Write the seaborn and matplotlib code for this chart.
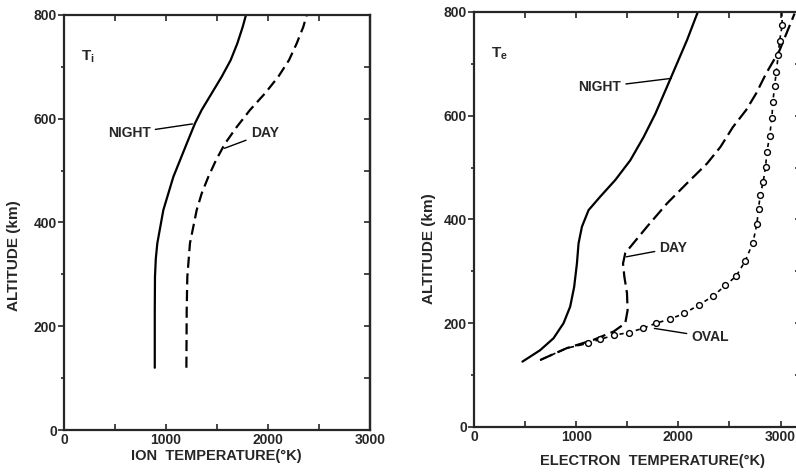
import pandas as pd
import seaborn as sns
import matplotlib.pyplot as plt
from matplotlib.ticker import MultipleLocator

# Ion temperature (left panel)
ti_night_alt = [120, 230, 295, 330, 360, 424, 488, 552, 591, 617, 649, 681, 713, 745, 777, 800]
ti_night_temp = [890, 890, 892, 900, 915, 974, 1072, 1203, 1284, 1350, 1448, 1546, 1634, 1699, 1752, 1784]
ti_day_alt = [120, 231, 295, 360, 424, 456, 488, 520, 552, 584, 617, 649, 681, 713, 745, 777, 800]
ti_day_temp = [1200, 1203, 1209, 1235, 1301, 1350, 1415, 1490, 1578, 1693, 1824, 1971, 2101, 2206, 2281,
               2346, 2380]

# Electron temperature (right panel)
te_night_alt = [126, 148, 171, 200, 232, 270, 315, 354, 386, 418, 444, 476, 514, 559, 604, 656, 701, 746, 800]
te_night_temp = [474, 647, 778, 876, 941, 980, 1007, 1023, 1056, 1121, 1235, 1382, 1529, 1660, 1775, 1889,
                 1987, 2085, 2190]
te_day_alt = [129, 152, 168, 184, 200, 225, 258, 290, 315, 335, 351, 386, 431, 470, 508, 540,
              578, 611, 643, 682, 726, 797]
te_day_temp = [647, 908, 1170, 1366, 1480, 1503, 1497, 1471, 1458, 1480, 1546, 1693, 1889, 2085, 2281, 2412,
               2533, 2663, 2761, 2860, 2990, 3137]
te_oval_alt = [161, 169, 177, 182, 190, 200, 208, 219, 235, 252, 273, 291, 320, 355, 391, 421,
               447, 473, 501, 530, 560, 596, 627, 657, 684, 717, 744, 775]
te_oval_temp = [1111, 1235, 1373, 1513, 1650, 1781, 1918, 2059, 2199, 2337, 2461, 2566, 2654, 2729, 2768, 2784,
                2801, 2830, 2853, 2866, 2892, 2915, 2925, 2941, 2958, 2977, 2990, 3016]
# dashed tail of the oval curve (joins day curve below, runs to the top above)
oval_low_alt = [129, 152, 161]
oval_low_temp = [647, 908, 1111]
oval_top_alt = [775, 800]
oval_top_temp = [3016, 3012]

sns.set_style('ticks')
plt.rcParams['font.family'] = ['Liberation Sans', 'DejaVu Sans']
plt.rcParams['font.weight'] = 'bold'
plt.rcParams['axes.linewidth'] = 1.6
plt.rcParams['mathtext.default'] = 'regular'

fig = plt.figure(figsize=(7.96, 4.73), dpi=100)
ax1 = fig.add_axes([0.0804, 0.0909, 0.3844, 0.8774])
ax2 = fig.add_axes([0.5955, 0.0973, 0.4108, 0.8774])


def curve(ax, temp, alt, **kw):
    df = pd.DataFrame({'temp': temp, 'alt': alt})
    sns.lineplot(data=df, x='temp', y='alt', sort=False, estimator=None, ax=ax, color='black', **kw)


# left panel
curve(ax1, ti_night_temp, ti_night_alt, lw=1.6)
curve(ax1, ti_day_temp, ti_day_alt, lw=1.6, linestyle=(0, (5, 2.5)))

# right panel
curve(ax2, te_night_temp, te_night_alt, lw=1.6)
curve(ax2, te_day_temp, te_day_alt, lw=1.6, linestyle=(0, (6, 2.5)))
curve(ax2, oval_low_temp, oval_low_alt, lw=1.2, linestyle=(0, (4, 2)))
curve(ax2, oval_top_temp, oval_top_alt, lw=1.2, linestyle=(0, (3, 2)))
curve(ax2, te_oval_temp, te_oval_alt, lw=1.2, linestyle=(0, (2.5, 2.5)),
      marker='o', markersize=4.2, markerfacecolor='white', markeredgecolor='black', markeredgewidth=1.0)

tick_font = 10
for ax, xmax in [(ax1, 3000), (ax2, 3200)]:
    ax.set_xlim(0, xmax)
    ax.set_ylim(0, 800)
    ax.xaxis.set_major_locator(MultipleLocator(1000))
    ax.xaxis.set_minor_locator(MultipleLocator(500))
    ax.yaxis.set_major_locator(MultipleLocator(200))
    ax.yaxis.set_minor_locator(MultipleLocator(100))
    ax.tick_params(axis='x', which='both', direction='in', top=True, length=4, width=1.2,
                   labelsize=tick_font, pad=2)
    ax.tick_params(axis='y', which='major', direction='out', length=4, width=1.2,
                   labelsize=tick_font, pad=1)
    ax.tick_params(axis='y', which='minor', direction='out', length=2.5, width=1.2)
    sec = ax.secondary_yaxis('right')
    sec.yaxis.set_major_locator(MultipleLocator(100))
    sec.tick_params(direction='in', length=4, width=1.2, labelright=False)
    sec.spines['right'].set_linewidth(1.6)
    for s in ax.spines.values():
        s.set_visible(True)
    ax.set_ylabel('ALTITUDE (km)', fontsize=11, fontweight='bold')

ax1.set_xlabel('ION  TEMPERATURE(°K)', fontsize=10.5, fontweight='bold')
ax2.set_xlabel('ELECTRON  TEMPERATURE(°K)', fontsize=10.5, fontweight='bold')
ax1.xaxis.set_label_coords(0.497, -0.045)
ax2.xaxis.set_label_coords(0.545, -0.065)
ax1.yaxis.set_label_coords(-0.14, 0.42)
ax2.yaxis.set_label_coords(-0.115, 0.43)

ax1.text(170, 720, 'T$_{i}$', fontsize=11, fontweight='bold', va='center')
ax2.text(170, 720, 'T$_{e}$', fontsize=11, fontweight='bold', va='center')

lead = dict(arrowstyle='-', color='black', lw=1.0, shrinkA=1, shrinkB=0)
lab = dict(fontsize=10, fontweight='bold', va='center')
ax1.annotate('NIGHT', xy=(1259, 590), xytext=(850, 572), ha='right', arrowprops=lead, **lab)
ax1.annotate('DAY', xy=(1573, 543), xytext=(1830, 572), ha='left', arrowprops=lead, **lab)
ax2.annotate('NIGHT', xy=(1931, 672), xytext=(1441, 655), ha='right', arrowprops=lead, **lab)
ax2.annotate('DAY', xy=(1490, 328), xytext=(1814, 345), ha='left', arrowprops=lead, **lab)
ax2.annotate('OVAL', xy=(1765, 190), xytext=(2127, 173), ha='left', arrowprops=lead, **lab)

fig.savefig('out.png', dpi=100)
